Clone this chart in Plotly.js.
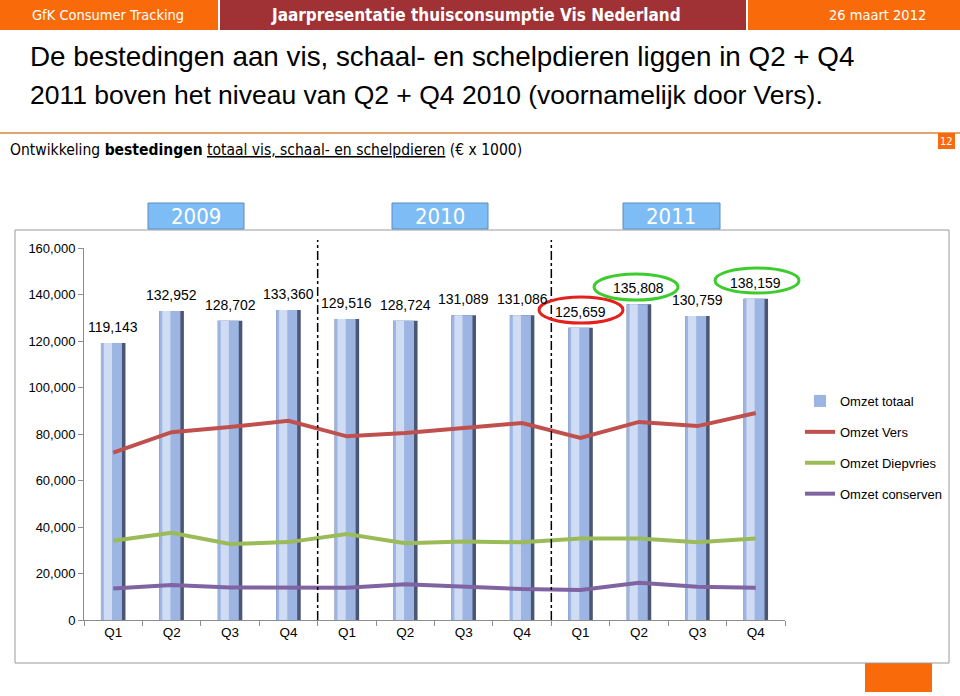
<!DOCTYPE html>
<html>
<head>
<meta charset="utf-8">
<script src="https://cdn.plot.ly/plotly-3.0.1.min.js"></script>
<style>html,body{margin:0;padding:0;background:#fff;}#chart{width:960px;height:696px;}</style>
</head>
<body>
<div id="chart"></div>
<script>
// ---- data ----
const categories = ['2009 Q1','2009 Q2','2009 Q3','2009 Q4','2010 Q1','2010 Q2','2010 Q3','2010 Q4','2011 Q1','2011 Q2','2011 Q3','2011 Q4'];
const quarterLabels = ['Q1','Q2','Q3','Q4','Q1','Q2','Q3','Q4','Q1','Q2','Q3','Q4'];
const yearLabels = ['2009','2010','2011'];
const omzetTotaal = [119143,132952,128702,133360,129516,128724,131089,131086,125659,135808,130759,138159];
const omzetVers = [72000,80800,83000,85700,79000,80400,82600,84700,78300,85200,83400,89000];
const omzetDiepvries = [34100,37500,32700,33500,37000,33000,33800,33400,35100,35100,33400,35100];
const omzetConserven = [13600,15000,14000,13900,13900,15400,14300,13300,12900,16000,14300,13900];
const yTickVals = [0,20000,40000,60000,80000,100000,120000,140000,160000];

// ---- pixel helpers (layout only) ----
const L = 84, R = 175, T = 248, B = 76, W = 960, H = 696;
const PW = W - L - R, PH = H - T - B;
const px = x => (x - L) / PW;
const py = y => (H - B - y) / PH;

const fmt = v => v.toLocaleString('en-US');
const font = 'Liberation Sans, Arial, sans-serif';
const tahoma = 'DejaVu Sans Condensed, DejaVu Sans, sans-serif';

const traces = [
  { type:'bar', x:categories, y:omzetTotaal, width:0.42, marker:{color:'#4a5672'},
    showlegend:false, hoverinfo:'skip', legendgroup:'a' },
  { type:'bar', x:categories, y:omzetTotaal, width:0.36, offset:-0.21, name:'Omzet totaal',
    marker:{color:'#9cb5e2'}, legendgroup:'a' },
  { type:'bar', x:categories, y:omzetTotaal, width:0.14, offset:-0.16,
    marker:{color:'#cfdcf4'}, showlegend:false, hoverinfo:'skip', legendgroup:'a' },
  { type:'scatter', mode:'lines', x:categories, y:omzetVers, name:'Omzet Vers',
    line:{color:'#c0504d', width:4}, legendgroup:'b' },
  { type:'scatter', mode:'lines', x:categories, y:omzetDiepvries, name:'Omzet Diepvries',
    line:{color:'#9bbb59', width:4}, legendgroup:'c' },
  { type:'scatter', mode:'lines', x:categories, y:omzetConserven, name:'Omzet conserven',
    line:{color:'#8064a2', width:4}, legendgroup:'d' }
];

const shapes = [
  // header bars
  {type:'rect', xref:'paper', yref:'paper', x0:px(0), x1:px(218), y0:py(0), y1:py(30), fillcolor:'#f96a0b', line:{width:0}, layer:'below'},
  {type:'rect', xref:'paper', yref:'paper', x0:px(220), x1:px(746), y0:py(0), y1:py(30), fillcolor:'#a03236', line:{width:0}, layer:'below'},
  {type:'rect', xref:'paper', yref:'paper', x0:px(748), x1:px(960), y0:py(0), y1:py(30), fillcolor:'#f96a0b', line:{width:0}, layer:'below'},
  // orange rule
  {type:'line', xref:'paper', yref:'paper', x0:px(0), x1:px(960), y0:py(133), y1:py(133), line:{color:'#e3a46c', width:2}},
  // page number box
  {type:'rect', xref:'paper', yref:'paper', x0:px(938), x1:px(955), y0:py(133), y1:py(149), fillcolor:'#f96a0b', line:{width:0}},
  // GfK logo (partly hidden)
  {type:'rect', xref:'paper', yref:'paper', x0:px(865), x1:px(932), y0:py(663), y1:py(692), fillcolor:'#f96a0b', line:{width:0}, layer:'below'},
  // chart frame
  {type:'rect', xref:'paper', yref:'paper', x0:px(15), x1:px(949), y0:py(230), y1:py(663), line:{color:'#9a9a9a', width:1}, layer:'below'},
  // year boxes
  {type:'rect', xref:'paper', yref:'paper', x0:px(148), x1:px(244), y0:py(203), y1:py(229), fillcolor:'#7dbcf4', line:{color:'#5d8cc0', width:1}},
  {type:'rect', xref:'paper', yref:'paper', x0:px(392), x1:px(488), y0:py(203), y1:py(229), fillcolor:'#7dbcf4', line:{color:'#5d8cc0', width:1}},
  {type:'rect', xref:'paper', yref:'paper', x0:px(623), x1:px(720), y0:py(203), y1:py(229), fillcolor:'#7dbcf4', line:{color:'#5d8cc0', width:1}},
  // year separators
  {type:'line', xref:'x', yref:'paper', x0:3.5, x1:3.5, y0:0, y1:py(240), line:{color:'#000', width:1.5, dash:'dashdot'}},
  {type:'line', xref:'x', yref:'paper', x0:7.5, x1:7.5, y0:0, y1:py(240), line:{color:'#000', width:1.5, dash:'dashdot'}},
  // highlight ellipses
  {type:'circle', xref:'paper', yref:'paper', x0:px(539), x1:px(623), y0:py(297), y1:py(323), line:{color:'#e3201b', width:3}},
  {type:'circle', xref:'paper', yref:'paper', x0:px(594), x1:px(678), y0:py(274), y1:py(300), line:{color:'#3ccc2e', width:3}},
  {type:'circle', xref:'paper', yref:'paper', x0:px(715), x1:px(799), y0:py(268), y1:py(293), line:{color:'#3ccc2e', width:3}}
];

const ann = (x, y, text, size, color, fam, anchor) => ({
  xref:'paper', yref:'paper', x:px(x), y:py(y), text:text, showarrow:false,
  xanchor:anchor || 'left', yanchor:'middle', font:{family:fam || font, size:size, color:color || '#000'}
});

const annotations = [
  ann(108, 15, 'GfK Consumer Tracking', 14.5, '#fff', tahoma, 'center'),
  ann(476, 15, '<b>Jaarpresentatie thuisconsumptie Vis Nederland</b>', 17, '#fff', tahoma, 'center'),
  ann(877, 15, '26 maart 2012', 14.5, '#fff', tahoma, 'center'),
  ann(28, 56, 'De bestedingen aan vis, schaal- en schelpdieren liggen in Q2 + Q4', 27.8, '#000', font),
  ann(28, 95, '2011 boven het niveau van Q2 + Q4 2010 (voornamelijk door Vers).', 26.5, '#000', font),
  ann(8, 150, 'Ontwikkeling <b>bestedingen</b> <span style="text-decoration:underline">totaal vis, schaal- en schelpdieren</span> (€ x 1000)', 15.5, '#000', tahoma),
  ann(946.5, 141, '12', 11, '#fff', tahoma, 'center'),
  ann(196, 216, yearLabels[0], 22, '#fff', tahoma, 'center'),
  ann(440, 216, yearLabels[1], 22, '#fff', tahoma, 'center'),
  ann(671, 216, yearLabels[2], 22, '#fff', tahoma, 'center')
];

// data labels above bars (drawn at each bar's value on the axes)
categories.forEach((c, i) => {
  annotations.push({
    xref:'x', yref:'y', x:c, y:omzetTotaal[i], text:fmt(omzetTotaal[i]), showarrow:false,
    yshift:16, xanchor:'center', yanchor:'middle', font:{family:font, size:14, color:'#000'}
  });
});

const layout = {
  width:W, height:H, margin:{l:L, r:R, t:T, b:B, pad:0},
  paper_bgcolor:'#fff', plot_bgcolor:'rgba(0,0,0,0)',
  barmode:'overlay', showlegend:true,
  font:{family:font, size:13, color:'#000'},
  xaxis:{type:'category', tickmode:'array', tickvals:categories, ticktext:quarterLabels,
    tickson:'boundaries', ticks:'outside', ticklen:5, tickcolor:'#8c8c8c',
    showline:true, linecolor:'#8c8c8c', linewidth:1, showgrid:false, zeroline:false,
    range:[-0.5, 11.5], tickfont:{family:font, size:13.5}, fixedrange:true},
  yaxis:{range:[0,160000], tickmode:'array', tickvals:yTickVals, tickformat:',',
    ticks:'outside', ticklen:5, tickcolor:'#8c8c8c', showline:true, linecolor:'#8c8c8c',
    showgrid:false, zeroline:false, tickfont:{family:font, size:13}, fixedrange:true},
  legend:{x:px(800), y:py(386), xanchor:'left', yanchor:'top', bgcolor:'rgba(0,0,0,0)',
    font:{family:font, size:13}, tracegroupgap:11, itemwidth:30},
  shapes:shapes, annotations:annotations
};

Plotly.newPlot('chart', traces, layout, {displayModeBar:false, staticPlot:true});
</script>
</body>
</html>
